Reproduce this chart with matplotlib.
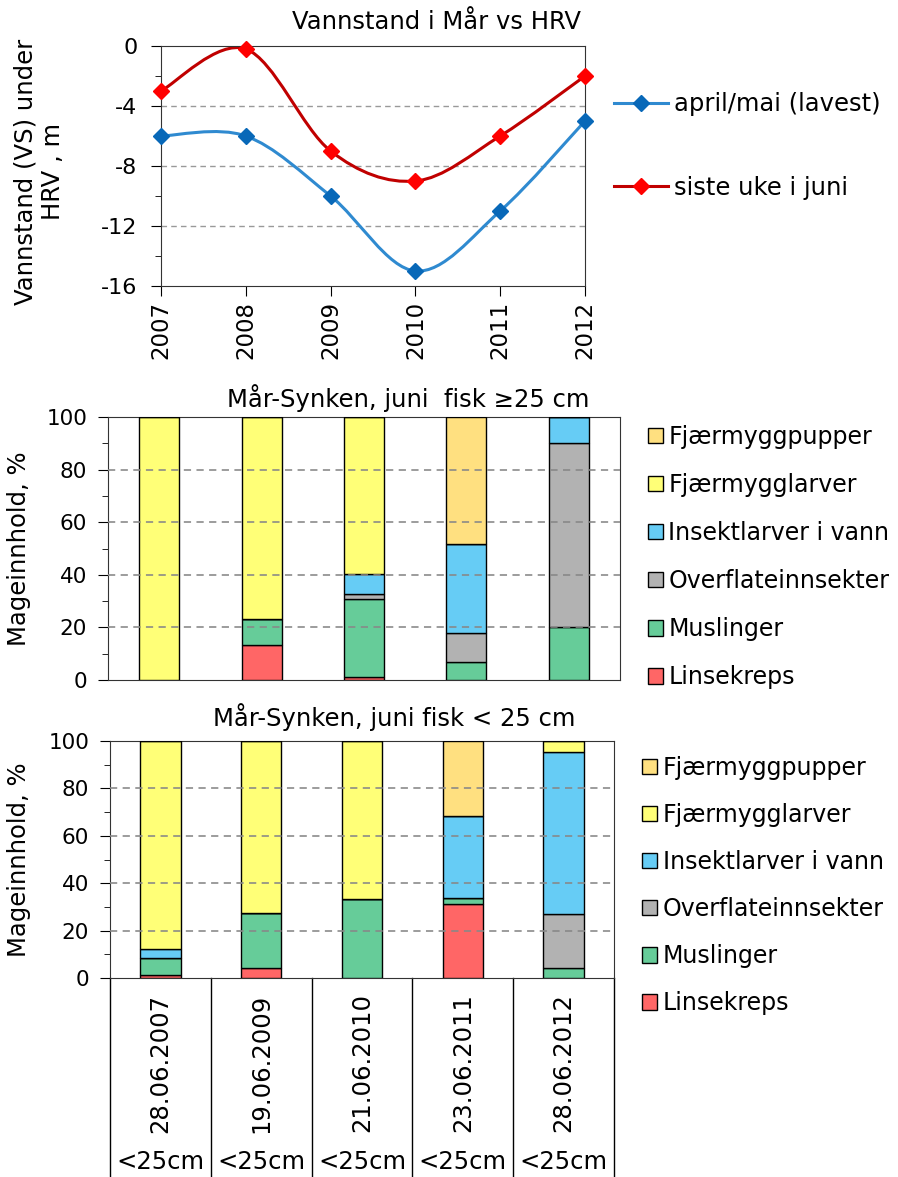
import matplotlib
matplotlib.use("Agg")
import matplotlib.pyplot as plt
from matplotlib.path import Path
from matplotlib.patches import PathPatch, Patch
from matplotlib.lines import Line2D
from matplotlib.ticker import MultipleLocator
import matplotlib.transforms as mtransforms

plt.rcParams['font.family'] = ['DejaVu Sans']
plt.rcParams['axes.unicode_minus'] = False

# water level data
years = [2007, 2008, 2009, 2010, 2011, 2012]
april_mai = [-6, -6, -10, -15, -11, -5]
siste_juni = [-3, -0.2, -7, -9, -6, -2]

# stomach content, fish >= 25 cm (percent, bottom -> top)
categories = ['Linsekreps', 'Muslinger', 'Overflateinnsekter',
              'Insektlarver i vann', 'Fjærmygglarver', 'Fjærmyggpupper']
colors = ['#FF6666', '#66CC99', '#B2B2B2', '#66CCF5', '#FFFF77', '#FFE080']
big = {
    'Linsekreps':          [0, 13.2, 1.2, 0, 0],
    'Muslinger':           [0, 9.9, 29.5, 6.8, 20],
    'Overflateinnsekter':  [0, 0, 1.9, 11.0, 70],
    'Insektlarver i vann': [0, 0, 7.8, 34.1, 10],
    'Fjærmygglarver':      [100, 76.9, 59.6, 0, 0],
    'Fjærmyggpupper':      [0, 0, 0, 48.1, 0],
}
# fish < 25 cm
small = {
    'Linsekreps':          [1.4, 4.1, 0, 31.1, 0],
    'Muslinger':           [6.9, 23.4, 33.3, 2.5, 4.2],
    'Overflateinnsekter':  [0, 0, 0, 0, 22.8],
    'Insektlarver i vann': [4.0, 0, 0, 34.8, 68.3],
    'Fjærmygglarver':      [87.7, 72.5, 66.7, 0, 4.7],
    'Fjærmyggpupper':      [0, 0, 0, 31.6, 0],
}
dates = ['28.06.2007', '19.06.2009', '21.06.2010', '23.06.2011', '28.06.2012']
size_label = '<25cm'

W, H = 898, 1177
fig = plt.figure(figsize=(W / 100, H / 100), dpi=100)
FS = 17.5   # titles, labels
LFS = 17    # bar legends
TFS = 15.5  # tick labels


def smooth_path(xs, ys):
    # excel style smoothed line: bezier segments through the points
    pts = list(zip(xs, ys))
    n = len(pts)
    verts = [pts[0]]
    codes = [Path.MOVETO]
    for i in range(n - 1):
        p0 = pts[i - 1] if i > 0 else pts[i]
        p1 = pts[i]
        p2 = pts[i + 1]
        p3 = pts[i + 2] if i + 2 < n else pts[i + 1]
        c1 = (p1[0] + (p2[0] - p0[0]) / 6, p1[1] + (p2[1] - p0[1]) / 6)
        c2 = (p2[0] - (p3[0] - p1[0]) / 6, p2[1] - (p3[1] - p1[1]) / 6)
        verts += [c1, c2, p2]
        codes += [Path.CURVE4] * 3
    return Path(verts, codes)


def ax_box(l, r, t, b):
    return [l / W, 1 - b / H, (r - l) / W, (b - t) / H]


# ---------- top: water level ----------
ax1 = fig.add_axes(ax_box(161, 585, 46, 286))
series = [(april_mai, '#2F8AD0', '#0868B8', 'april/mai (lavest)'),
          (siste_juni, '#C00000', '#FF0000', 'siste uke i juni')]
handles = []
for vals, lc, mc, lab in series:
    ax1.add_patch(PathPatch(smooth_path(years, vals), fill=False, edgecolor=lc, lw=2.2, clip_on=False))
    ax1.plot(years, vals, ls='none', marker='D', ms=8, color=mc, clip_on=False, zorder=5)
    handles.append(Line2D([], [], color=lc, lw=2.2, marker='D', ms=8, mfc=mc, mec=mc))
ax1.set_xlim(2007, 2012)
ax1.set_ylim(-16, 0)
ax1.set_xticks(years)
ax1.set_xticklabels([str(y) for y in years], rotation=90, fontsize=TFS + 1)
ax1.yaxis.set_major_locator(MultipleLocator(4))
ax1.yaxis.set_minor_locator(MultipleLocator(2))
ax1.tick_params(axis='y', which='major', direction='out', length=7, labelsize=TFS + 0.5, pad=10)
ax1.tick_params(axis='y', which='minor', direction='out', length=4)
ax1.tick_params(axis='x', direction='out', length=7)
for yv in [-4, -8, -12]:
    ax1.axhline(yv, color='#999999', lw=1, ls=(0, (4, 3)), zorder=0)
for s in ax1.spines.values():
    s.set_color('#333333')
ax1.set_ylabel('Vannstand (VS) under\nHRV , m', fontsize=FS)
ax1.yaxis.set_label_coords(-0.226, 0.475)
ax1.legend(handles=handles, labels=[h for *_, h in series], loc='upper left',
           bbox_to_anchor=(1.046, 0.847), frameon=False, fontsize=FS,
           handlelength=2.2, labelspacing=2.45, handletextpad=0.25, borderaxespad=0)
fig.text(437 / W, 1 - 22 / H, 'Vannstand i Mår vs HRV', ha='center', va='center', fontsize=FS)


def stacked(ax, data, width, leg_anchor, spacing, label_x):
    x = list(range(len(dates)))
    bottom = [0] * len(x)
    for cat, col in zip(categories, colors):
        vals = data[cat]
        ax.bar(x, vals, width, bottom=bottom, color=col, edgecolor='black', lw=1, zorder=3)
        bottom = [b + v for b, v in zip(bottom, vals)]
    ax.set_xlim(-0.5, len(x) - 0.5)
    ax.set_ylim(0, 100)
    ax.yaxis.set_major_locator(MultipleLocator(20))
    ax.yaxis.set_minor_locator(MultipleLocator(10))
    ax.tick_params(axis='y', which='major', direction='out', length=7, labelsize=TFS, pad=8)
    ax.tick_params(axis='y', which='minor', direction='out', length=4)
    ax.set_xticks([])
    for yv in [20, 40, 60, 80]:
        ax.axhline(yv, color='#888888', lw=1.3, ls=(0, (4, 3)), zorder=4, alpha=0.9)
    for s in ax.spines.values():
        s.set_color('#333333')
    ax.set_ylabel('Mageinnhold, %', fontsize=FS)
    ax.yaxis.set_label_coords(label_x, 0.5)
    hs = [Patch(facecolor=c, edgecolor='black', lw=1) for c in colors][::-1]
    ax.legend(handles=hs, labels=categories[::-1], loc='upper left', frameon=False,
              fontsize=LFS, handlelength=0.62, handleheight=0.62, handletextpad=0.25,
              labelspacing=spacing, borderaxespad=0, bbox_to_anchor=leg_anchor)


# ---------- middle: fish >= 25 cm ----------
ax2 = fig.add_axes(ax_box(108, 620, 417, 680))
stacked(ax2, big, 0.39, (1.036, 1.006), 1.02, -0.150)
fig.text(408 / W, 1 - 398 / H, 'Mår-Synken, juni  fisk ≥25 cm', ha='center', va='center', fontsize=FS)

# ---------- bottom: fish < 25 cm ----------
ax3 = fig.add_axes(ax_box(110, 614, 741, 978))
stacked(ax3, small, 0.4, (1.037, 0.978), 0.98, -0.157)
fig.text(394 / W, 1 - 717 / H, 'Mår-Synken, juni fisk < 25 cm', ha='center', va='center', fontsize=FS)

# category boxes under bottom chart
trans = mtransforms.blended_transform_factory(ax3.transData, fig.transFigure)
y_top = 1 - 978 / H
for xb in [-0.5, 0.5, 1.5, 2.5, 3.5, 4.5]:
    ax3.plot([xb, xb], [y_top, 0], color='black', lw=1, transform=trans, clip_on=False)
for i, d in enumerate(dates):
    fig.text(0, 1 - 1063 / H, d, rotation=90, ha='center', va='center', fontsize=FS,
             transform=trans).set_x(i)
    fig.text(0, 1 - 1169 / H, size_label, ha='center', va='baseline', fontsize=FS,
             transform=trans).set_x(i)

fig.savefig('out.png', dpi=100)
